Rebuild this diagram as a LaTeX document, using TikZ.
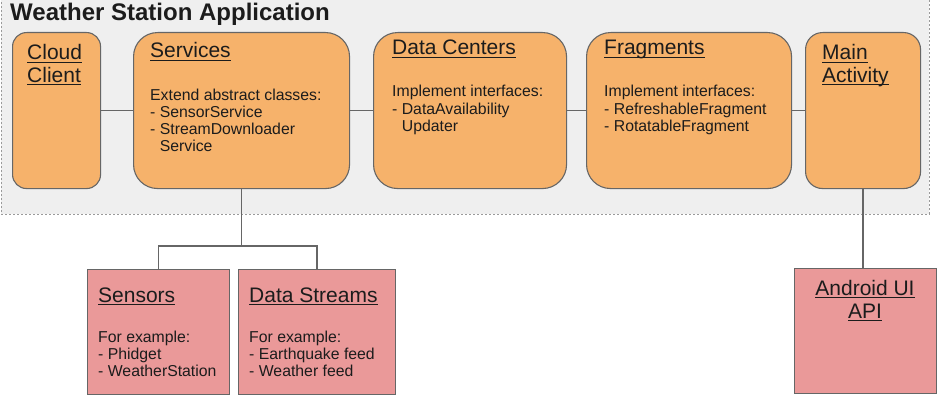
\documentclass[tikz,border=0pt]{standalone}
\usepackage{fontspec}
\setmainfont{Liberation Sans}
\definecolor{bg}{HTML}{EFEFEF}
\definecolor{orng}{HTML}{F6B26B}
\definecolor{pnk}{HTML}{EA9999}
\definecolor{edgec}{HTML}{666666}
\definecolor{dashc}{HTML}{9A9A9A}
\definecolor{ink}{HTML}{1C1C1C}
\newcommand\myul[1]{\setbox0\hbox{#1}\rlap{\rule[-2.8pt]{\wd0}{1.1pt}}\box0}
\newcommand\mylines[1]{\begin{tabular}[t]{@{}l@{}}#1\end{tabular}}
\newcommand\myclines[1]{\begin{tabular}[t]{@{}c@{}}#1\end{tabular}}
\newcommand\hfont{\fontsize{21}{22.5}\selectfont}
\newcommand\bfont{\fontsize{15.8}{17.3}\selectfont}
\tikzset{
  appbox/.style={draw=dashc, dash pattern=on 2pt off 2pt, line width=0.9pt, fill=bg, inner sep=0, anchor=north west},
  obox/.style={draw=edgec, line width=1.1pt, fill=orng, rounded corners=#1, inner sep=0, anchor=north west},
  obox/.default=24pt,
  pbox/.style={draw=edgec, line width=1.1pt, fill=pnk, inner sep=0, anchor=north west},
  txt/.style={inner sep=0, text=ink, anchor=base west},
  conn/.style={draw=edgec, line width=1.4pt}
}
\begin{document}
\begin{tikzpicture}[x=1pt,y=-1pt]
\useasboundingbox (0,0) rectangle (938,404);
\node[appbox, minimum width=928pt, minimum height=218pt] (app) at (1,-4) {};
\node[txt, font=\bfseries\fontsize{24}{26}\selectfont] (title) at (10,21) {Weather Station Application};

% orange boxes
\node[obox=14pt, minimum width=88pt, minimum height=156pt] (cloud) at (12,32) {};
\node[obox=24pt, minimum width=216pt, minimum height=156pt] (services) at (133,32) {};
\node[obox=24pt, minimum width=193pt, minimum height=156pt] (centers) at (373,32) {};
\node[obox=24pt, minimum width=205pt, minimum height=156pt] (fragments) at (586,32) {};
\node[obox=17pt, minimum width=115pt, minimum height=156pt] (main) at (805,32) {};

% pink boxes
\node[pbox, minimum width=142pt, minimum height=125pt] (sensors) at (87,269) {};
\node[pbox, minimum width=157pt, minimum height=125pt] (streams) at (238,269) {};
\node[pbox, minimum width=142pt, minimum height=125pt] (android) at (794,268) {};

% connectors
\draw[conn] (cloud.east) -- (services.west);
\draw[conn] (services.east) -- (centers.west);
\draw[conn] (centers.east) -- (fragments.west);
\draw[conn] (fragments.east) -- (main.west);
\path (services.south) ++(0,57) coordinate (junc);
\draw[conn] (services.south) -- (junc);
\draw[conn] (sensors.north) |- (junc) -| (streams.north);
\draw[conn] (main.south) -- (main.south |- android.north);

% texts
\node[txt] (cloudt) at (27,60) {\hfont\mylines{\myul{Cloud}\\\myul{Client}}};
\node[txt] (servicest) at (150,58) {\hfont\myul{Services}};
\node[txt] (servicesb) at (150,100) {\bfont\mylines{Extend abstract classes:\\- SensorService\\- StreamDownloader\\\phantom{- }Service}};
\node[txt] (centerst) at (392,55) {\hfont\myul{Data Centers}};
\node[txt] (centersb) at (392,97) {\bfont\mylines{Implement interfaces:\\- DataAvailability\\\phantom{- }Updater}};
\node[txt] (fragmentst) at (604,55) {\hfont\myul{Fragments}};
\node[txt] (fragmentsb) at (604,97) {\bfont\mylines{Implement interfaces:\\- RefreshableFragment\\- RotatableFragment}};
\node[txt] (maint) at (822,60) {\hfont\mylines{\myul{Main}\\\myul{Activity}}};

\node[txt] (sensorst) at (98,302) {\hfont\myul{Sensors}};
\node[txt] (sensorsb) at (98,342) {\bfont\mylines{For example:\\- Phidget\\- WeatherStation}};
\node[txt] (streamst) at (249,302) {\hfont\myul{Data Streams}};
\node[txt] (streamsb) at (249,342) {\bfont\mylines{For example:\\- Earthquake feed\\- Weather feed}};
\node[txt, anchor=base] (androidt) at (865,295) {\fontsize{21}{23}\selectfont\myclines{\myul{Android UI}\\\myul{API}}};
\end{tikzpicture}
\end{document}
